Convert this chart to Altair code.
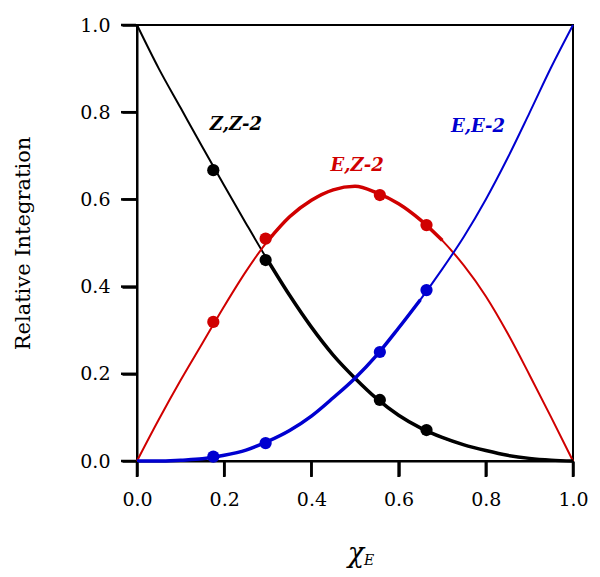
import altair as alt
import pandas as pd

# fitted curves
curve_x = [0.0, 0.05, 0.1, 0.15, 0.2, 0.25, 0.3, 0.35, 0.4, 0.45, 0.5,
           0.55, 0.6, 0.65, 0.7, 0.75, 0.8, 0.85, 0.9, 0.95, 1.0]
zz_curve = [1.0, 0.90, 0.81, 0.72, 0.632, 0.545, 0.46, 0.38, 0.307, 0.243, 0.19,
            0.143, 0.105, 0.076, 0.054, 0.037, 0.024, 0.013, 0.006, 0.002, 0.0]
ez_curve = [0.0, 0.095, 0.185, 0.27, 0.355, 0.435, 0.505, 0.56, 0.598, 0.622, 0.63,
            0.615, 0.59, 0.553, 0.506, 0.448, 0.378, 0.293, 0.198, 0.10, 0.0]
ee_curve = [0.0, 0.0, 0.002, 0.005, 0.013, 0.025, 0.045, 0.07, 0.103, 0.145, 0.19,
            0.243, 0.305, 0.37, 0.44, 0.515, 0.60, 0.695, 0.798, 0.903, 1.0]

# measured points
pt_x = [0.175, 0.295, 0.557, 0.664]
zz_pts = [0.667, 0.461, 0.14, 0.071]
ez_pts = [0.319, 0.51, 0.61, 0.541]
ee_pts = [0.01, 0.041, 0.25, 0.392]

series = ["Z,Z-2", "E,Z-2", "E,E-2"]
colors = ["#000000", "#d00000", "#0000d0"]
label_x = [0.227, 0.505, 0.782]
label_y = [0.77, 0.677, 0.766]

x_ticks = [0.0, 0.2, 0.4, 0.6, 0.8, 1.0]
y_ticks = [0.0, 0.2, 0.4, 0.6, 0.8, 1.0]

curves = pd.DataFrame(
    [{"x": x, "y": v, "s": s} for s, vals in zip(series, [zz_curve, ez_curve, ee_curve])
     for x, v in zip(curve_x, vals)]
)
points = pd.DataFrame(
    [{"x": x, "y": v, "s": s} for s, vals in zip(series, [zz_pts, ez_pts, ee_pts])
     for x, v in zip(pt_x, vals)]
)
labels = pd.DataFrame({"x": label_x, "y": label_y, "s": series})
xt = pd.DataFrame({"x": x_ticks})
yt = pd.DataFrame({"y": y_ticks})

xs = alt.Scale(domain=[0, 1], nice=False)
ys = alt.Scale(domain=[0, 1], nice=False)
cs = alt.Scale(domain=series, range=colors)

X = alt.X("x:Q", scale=xs, axis=alt.Axis(values=x_ticks, format=".1f", title=None,
                                         ticks=True, tickSize=15, tickWidth=2.5,
                                         tickColor="black", tickOpacity=1,
                                         labelFlush=False))
Y = alt.Y("y:Q", scale=ys, axis=alt.Axis(values=y_ticks, format=".1f",
                                         title="Relative Integration",
                                         ticks=True, tickSize=15, tickWidth=2.5,
                                         tickColor="black", tickOpacity=1,
                                         labelFlush=False))
C = alt.Color("s:N", scale=cs, legend=None)

thin = alt.Chart(curves).mark_line(strokeWidth=2, interpolate="monotone").encode(
    x=X, y=Y, color=C, detail="s:N")

thick = alt.Chart(curves).transform_filter(
    "(datum.s == 'Z,Z-2' && datum.x >= 0.3) || (datum.s == 'E,Z-2' && datum.x >= 0.3 && datum.x <= 0.7) || (datum.s == 'E,E-2' && datum.x <= 0.65)"
).mark_line(strokeWidth=3.5, interpolate="monotone").encode(
    x=X, y=Y, color=C, detail="s:N")

pts = alt.Chart(points).mark_point(filled=True, size=150, shape="circle", opacity=1).encode(
    x=X, y=Y, color=C)

txt = alt.Chart(labels).mark_text(font="DejaVu Serif", fontSize=18, fontWeight="bold",
                                  fontStyle="italic").encode(
    x=X, y=Y, text="s:N", color=C)

# explicit outward tick marks
xtick = alt.Chart(xt).mark_rule(color="black", strokeWidth=2.5, clip=False).encode(
    x=X, y=alt.value(437), y2=alt.value(452))
ytick = alt.Chart(yt).mark_rule(color="black", strokeWidth=2.5, clip=False).encode(
    y=Y, x=alt.value(-1), x2=alt.value(-16))

chi = alt.Chart(labels).transform_filter("datum.s == 'Z,Z-2'").mark_text(
    text="χ", font="DejaVu Serif", fontSize=27, fontStyle="italic", align="right",
    baseline="alphabetic", color="black").encode(
    x=alt.value(227), y=alt.value(537))
sub = alt.Chart(labels).transform_filter("datum.s == 'Z,Z-2'").mark_text(
    text="E", font="DejaVu Serif", fontSize=14, fontStyle="italic", align="left",
    baseline="alphabetic", color="black").encode(
    x=alt.value(227), y=alt.value(540))

chart = alt.layer(thin, thick, pts, txt, xtick, ytick, chi, sub).properties(
    width=436, height=436,
    autosize=alt.AutoSizeParams(type="none"),
    padding={"left": 129, "top": 17, "right": 15, "bottom": 108},
).configure_view(stroke="black", strokeWidth=2).configure_axis(
    grid=False, domainColor="black", domainWidth=2,
    labelFont="DejaVu Serif", labelFontSize=19, labelColor="black",
    titleFont="DejaVu Serif", titleFontSize=21, titleFontWeight="normal",
    titleColor="black",
).configure_axisX(labelPadding=14).configure_axisY(labelPadding=12, titlePadding=46)

chart.save("out.html", embed_options={"renderer": "svg", "actions": False})
